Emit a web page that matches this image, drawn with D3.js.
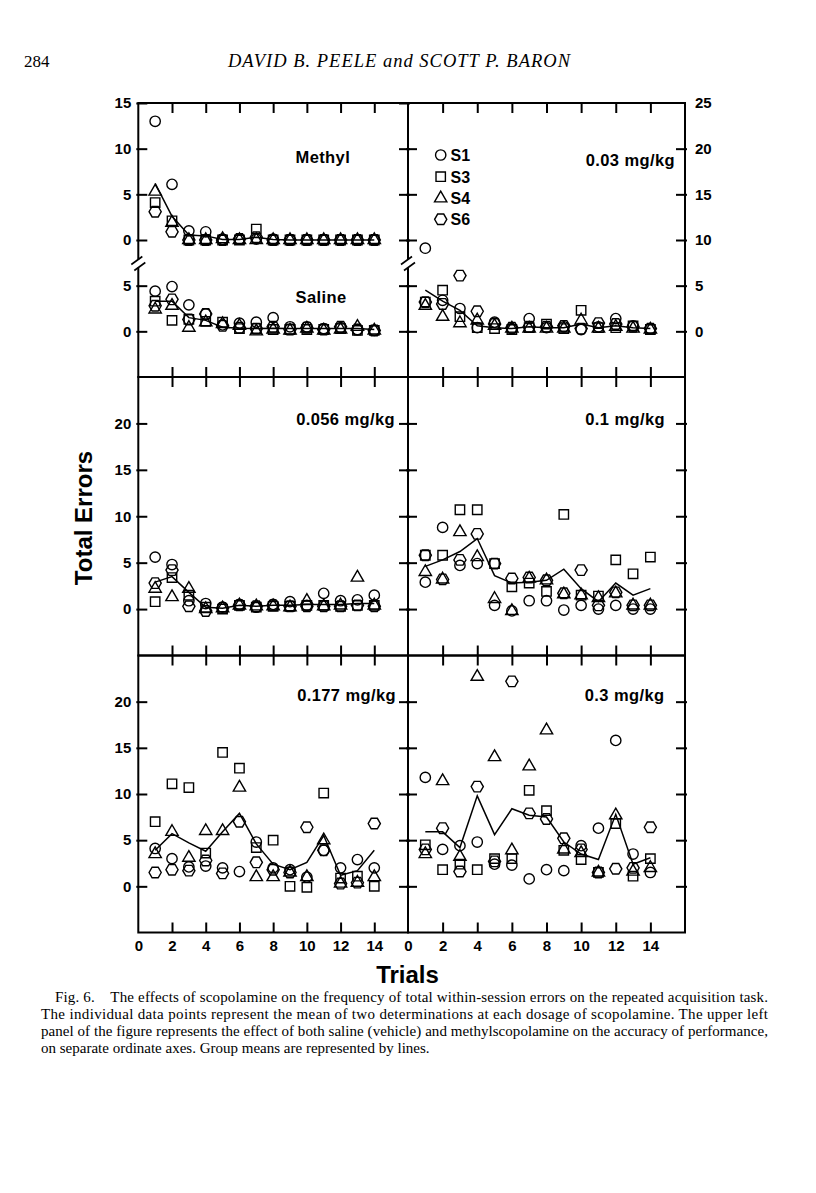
<!DOCTYPE html>
<html><head><meta charset="utf-8">
<script src="https://cdn.jsdelivr.net/npm/d3@7"></script>
<style>
html,body{margin:0;padding:0;background:#fff;}
svg{display:block;}
</style></head><body>
<svg id="chart" width="816" height="1193"></svg>
<script>
// ---------- categories / ticks ----------
const trials = [1,2,3,4,5,6,7,8,9,10,11,12,13,14];
const xInnerTicks = [2,4,6,8,10,12,14];
const xLabelTicks = [0,2,4,6,8,10,12,14];
const yTicks = [0,5,10,15,20];
const rightAxisTicks = [0,5,10,15,20,25];
const methylTicks = [0,5,10,15];
const salineTicks = [0,5];
const subjects = ["S1","S3","S4","S6"];

// ---------- data (total errors per trial) ----------
// Methylscopolamine
const methylS1 = [13.0, 6.1, 1.0, 0.9, 0.1, 0.1, 0.1, 0.1, 0.0, 0.0, 0.0, 0.0, 0.0, 0.0];
const methylS3 = [4.1, 2.1, 0.0, 0.0, 0.0, 0.0, 1.2, 0.0, 0.0, 0.0, 0.0, 0.0, 0.0, 0.0];
const methylS4 = [5.3, 1.9, 0.0, 0.0, 0.1, 0.0, 0.0, 0.0, 0.0, 0.0, 0.0, 0.0, 0.0, 0.0];
const methylS6 = [3.1, 0.9, 0.0, 0.0, 0.0, 0.1, 0.3, 0.0, 0.0, 0.0, 0.0, 0.0, 0.0, 0.0];
const methylMean = [6.2, 2.6, 0.55, 0.45, 0.05, 0.05, 0.3, 0.05, 0.0, 0.0, 0.0, 0.0, 0.0, 0.0];
// Saline
const salineS1 = [4.4, 4.9, 2.9, 1.9, 0.7, 0.9, 1.0, 1.5, 0.5, 0.5, 0.3, 0.4, 0.2, 0.1];
const salineS3 = [3.3, 1.2, 1.3, 1.1, 1.0, 0.3, 0.3, 0.2, 0.2, 0.2, 0.2, 0.3, 0.1, 0.1];
const salineS4 = [2.4, 2.8, 0.4, 1.0, 0.8, 0.6, 0.0, 0.2, 0.1, 0.3, 0.1, 0.2, 0.5, 0.1];
const salineS6 = [2.8, 3.5, 1.3, 1.9, 0.6, 0.4, 0.3, 0.5, 0.2, 0.4, 0.2, 0.5, 0.2, 0.1];
const salineMean = [3.3, 3.3, 1.5, 1.2, 0.45, 0.35, 0.3, 0.35, 0.3, 0.3, 0.3, 0.3, 0.3, 0.2];
// 0.03 mg/kg
const d003S1 = [9.1, 3.4, 2.5, 0.4, 1.0, 0.3, 1.4, 0.4, 0.5, 0.2, 0.5, 1.4, 0.6, 0.3];
const d003S3 = [3.2, 4.5, 1.6, 0.4, 0.3, 0.2, 0.4, 0.8, 0.3, 2.3, 0.4, 0.4, 0.6, 0.2];
const d003S4 = [2.8, 1.6, 0.9, 1.2, 0.6, 0.3, 0.3, 0.3, 0.3, 1.2, 0.3, 0.5, 0.3, 0.2];
const d003S6 = [3.2, 3.0, 6.1, 2.2, 0.8, 0.4, 0.5, 0.5, 0.6, 0.3, 0.9, 0.8, 0.5, 0.3];
const d003Mean = [4.5, 3.3, 2.3, 0.6, 0.4, 0.3, 0.5, 0.4, 0.4, 0.8, 0.4, 0.6, 0.4, 0.3];
// 0.056 mg/kg
const d0056S1 = [5.6, 4.8, 0.9, 0.6, 0.2, 0.5, 0.2, 0.5, 0.8, 0.4, 1.7, 0.9, 1.0, 1.5];
const d0056S3 = [0.8, 3.4, 1.5, 0.2, 0.0, 0.4, 0.2, 0.3, 0.3, 0.4, 0.4, 0.3, 0.4, 0.4];
const d0056S4 = [2.2, 1.3, 2.2, 0.0, 0.1, 0.4, 0.3, 0.3, 0.2, 0.9, 0.3, 0.4, 3.4, 0.4];
const d0056S6 = [2.8, 4.2, 0.3, -0.2, 0.1, 0.4, 0.3, 0.4, 0.3, 0.3, 0.3, 0.3, 0.4, 0.3];
const d0056Mean = [2.9, 3.5, 1.8, 0.2, 0.1, 0.4, 0.3, 0.4, 0.4, 0.5, 0.5, 0.5, 0.6, 0.6];
// 0.1 mg/kg
const d01S1 = [2.9, 8.8, 4.7, 4.9, 0.4, -0.2, 0.9, 0.9, -0.1, 0.4, 0.0, 0.4, 0.0, 0.0];
const d01S3 = [5.8, 5.8, 10.7, 10.7, 4.9, 2.4, 2.8, 1.9, 10.2, 1.5, 1.4, 5.3, 3.8, 5.6];
const d01S4 = [4.0, 3.2, 8.3, 5.6, 1.1, -0.2, 3.3, 3.1, 1.6, 1.5, 1.2, 1.7, 0.4, 0.4];
const d01S6 = [5.8, 3.2, 5.3, 8.1, 4.9, 3.3, 3.4, 3.1, 1.7, 4.2, 0.4, 1.8, 0.4, 0.4];
const d01Mean = [4.6, 5.3, 6.2, 7.6, 3.6, 2.8, 2.9, 3.1, 4.3, 2.2, 0.8, 2.8, 1.5, 2.2];
// 0.177 mg/kg
const d0177S1 = [4.1, 3.0, 2.1, 2.2, 2.0, 1.6, 4.8, 2.0, 1.8, 1.0, 3.9, 2.0, 2.9, 2.0];
const d0177S3 = [7.0, 11.1, 10.7, 3.6, 14.5, 12.8, 4.2, 5.0, 0.0, -0.1, 10.1, 0.9, 1.1, 0.0];
const d0177S4 = [3.5, 5.9, 3.1, 6.0, 6.0, 10.7, 1.0, 1.0, 1.5, 1.0, 5.0, 0.3, 0.4, 1.0];
const d0177S6 = [1.5, 1.8, 1.7, 2.8, 1.4, 7.0, 2.6, 1.8, 1.5, 6.4, 3.9, 0.3, 0.4, 6.8];
const d0177Mean = [3.9, 5.7, 4.7, 3.8, 5.9, 7.9, 4.6, 2.4, 1.8, 2.6, 5.5, 1.2, 1.7, 3.9];
// 0.3 mg/kg
const d03S1 = [11.8, 4.0, 4.4, 4.8, 2.4, 2.3, 0.8, 1.8, 1.7, 4.4, 6.3, 15.8, 3.5, 1.5];
const d03S3 = [4.5, 1.8, 2.4, 1.8, 3.0, 3.0, 10.4, 8.2, 3.9, 2.9, 1.5, 6.8, 1.1, 3.0];
const d03S4 = [3.5, 11.4, 3.2, 22.7, 14.0, 3.9, 13.0, 16.9, 4.0, 3.6, 1.5, 7.7, 1.6, 2.0];
const d03S6 = [4.0, 6.3, 1.6, 10.8, 2.7, 22.2, 7.9, 7.3, 5.2, 4.0, 1.5, 1.9, 2.0, 6.4];
const d03Mean = [5.9, 5.9, 4.2, 9.8, 5.6, 8.4, 7.7, 7.5, 4.8, 3.5, 2.9, 7.8, 2.4, 3.1];

const captionLines = [
  "Fig. 6.    The effects of scopolamine on the frequency of total within-session errors on the repeated acquisition task.",
  "The individual data points represent the mean of two determinations at each dosage of scopolamine. The upper left",
  "panel of the figure represents the effect of both saline (vehicle) and methylscopolamine on the accuracy of performance,",
  "on separate ordinate axes. Group means are represented by lines."
];

// ---------- layout ----------
const SANS = "'Liberation Sans', Arial, Helvetica, sans-serif";
const SERIF = "'Liberation Serif', 'Times New Roman', Times, serif";
const colL = [138.3, 408], colR = [408, 685];
const rows = [[103, 377], [377, 655.5], [655.5, 932.5]];
const svg = d3.select("#chart");

const symbolHexagon = {
  draw(ctx, size) {
    const r = Math.sqrt(size / (3 * Math.sqrt(3) / 2));
    for (let i = 0; i < 6; i++) {
      const a = i * Math.PI / 3;
      const px = r * Math.cos(a), py = r * Math.sin(a);
      if (i === 0) ctx.moveTo(px, py); else ctx.lineTo(px, py);
    }
    ctx.closePath();
  }
};
const symbolTypes = { S1: d3.symbolCircle, S3: d3.symbolSquare, S4: d3.symbolTriangle, S6: symbolHexagon };
const symbolSizes = { S1: 84, S3: 88, S4: 66, S6: 96 };
const symPath = s => d3.symbol().type(symbolTypes[s]).size(symbolSizes[s])();

function drawSeries(g, x, y, seriesArrays, meanArr) {
  const line = d3.line().x((d, i) => x(trials[i])).y(d => y(d));
  g.append("path").attr("d", line(meanArr)).attr("fill", "none")
    .attr("stroke", "#000").attr("stroke-width", 1.5);
  subjects.forEach((s, si) => {
    g.selectAll(null).data(seriesArrays[si]).enter().append("path")
      .attr("d", symPath(s))
      .attr("transform", (d, i) => `translate(${x(trials[i])},${y(d)})`)
      .attr("fill", "none").attr("stroke", "#000").attr("stroke-width", 1.4);
  });
}

function styleAxis(g, fs) {
  g.select(".domain").remove();
  g.selectAll(".tick line").attr("stroke", "#000").attr("stroke-width", 2);
  g.selectAll(".tick text").attr("fill", "#000").attr("font-family", SANS)
    .attr("font-weight", "bold").attr("font-size", fs || 15);
}

function panel(opts) {
  const [x0, x1] = opts.col, [y0, y1] = opts.row;
  const x = d3.scaleLinear().domain([0, 16]).range([x0, x1]);
  const y = d3.scaleLinear().domain([-5, 25]).range([y1, y0]);
  const g = svg.append("g");
  const gt = g.append("g").attr("transform", `translate(0,${y0})`)
    .call(d3.axisTop(x).tickValues(xInnerTicks).tickSizeInner(-10).tickSizeOuter(0).tickFormat(""));
  styleAxis(gt);
  const gb = g.append("g").attr("transform", `translate(0,${y1})`)
    .call(d3.axisBottom(x).tickValues(xInnerTicks).tickSizeInner(-10).tickSizeOuter(0).tickFormat(""));
  styleAxis(gb);
  if (opts.xLabels) {
    const gl = g.append("g").attr("transform", `translate(0,${y1})`)
      .call(d3.axisBottom(x).tickValues(xLabelTicks).tickSize(0).tickPadding(8).tickFormat(d3.format("d")));
    styleAxis(gl);
  }
  return { g, x, y };
}

function yAxisPair(g, yScale, ticks, xLeft, xRight, showLabels) {
  const al = g.append("g").attr("transform", `translate(${xLeft},0)`)
    .call(d3.axisLeft(yScale).tickValues(ticks).tickSizeInner(-9).tickSizeOuter(0).tickPadding(7)
      .tickFormat(showLabels ? d3.format("d") : ""));
  styleAxis(al);
  al.selectAll(".tick line").attr("x1", -2);
  const ar = g.append("g").attr("transform", `translate(${xRight},0)`)
    .call(d3.axisRight(yScale).tickValues(ticks).tickSizeInner(-9).tickSizeOuter(0).tickFormat(""));
  styleAxis(ar);
  ar.selectAll(".tick line").attr("x1", 2);
}

function label(g, text, x, y, anchor) {
  g.append("text").text(text).attr("x", x).attr("y", y).attr("text-anchor", anchor)
    .attr("font-family", SANS).attr("font-weight", "bold").attr("font-size", 16.5)
    .attr("letter-spacing", 0.4).attr("fill", "#000");
}

// ---------- top-left : Methyl + Saline ----------
{
  const p = panel({ col: colL, row: rows[0] });
  const yMethyl = d3.scaleLinear().domain([-15, 15]).range([rows[0][1], rows[0][0]]);
  const ySaline = p.y;
  yAxisPair(p.g, yMethyl, methylTicks, colL[0], colL[1], true);
  yAxisPair(p.g, ySaline, salineTicks, colL[0], colL[1], true);
  drawSeries(p.g, p.x, yMethyl, [methylS1, methylS3, methylS4, methylS6], methylMean);
  drawSeries(p.g, p.x, ySaline, [salineS1, salineS3, salineS4, salineS6], salineMean);
  label(p.g, "Methyl", 295.5, 162.5, "start");
  label(p.g, "Saline", 295.5, 302.5, "start");
}
// ---------- top-right : 0.03 ----------
{
  const p = panel({ col: colR, row: rows[0] });
  yAxisPair(p.g, p.y, yTicks, colR[0], colR[1], false);
  const ar = p.g.append("g").attr("transform", `translate(${colR[1]},0)`)
    .call(d3.axisRight(p.y).tickValues(rightAxisTicks).tickSize(0).tickPadding(10).tickFormat(d3.format("d")));
  styleAxis(ar);
  drawSeries(p.g, p.x, p.y, [d003S1, d003S3, d003S4, d003S6], d003Mean);
  label(p.g, "0.03 mg/kg", 675, 165.5, "end");
  const legY = [155, 176.7, 198.3, 219.3];
  subjects.forEach((s, i) => {
    p.g.append("path").attr("d", symPath(s)).attr("transform", `translate(440.7,${legY[i]})`)
      .attr("fill", "none").attr("stroke", "#000").attr("stroke-width", 1.4);
    p.g.append("text").text(s).attr("x", 450.5).attr("y", legY[i] + 6)
      .attr("font-family", SANS).attr("font-weight", "bold").attr("font-size", 16).attr("fill", "#000");
  });
}
// ---------- middle row ----------
{
  const p = panel({ col: colL, row: rows[1] });
  yAxisPair(p.g, p.y, yTicks, colL[0], colL[1], true);
  drawSeries(p.g, p.x, p.y, [d0056S1, d0056S3, d0056S4, d0056S6], d0056Mean);
  label(p.g, "0.056 mg/kg", 395, 425, "end");
}
{
  const p = panel({ col: colR, row: rows[1] });
  yAxisPair(p.g, p.y, yTicks, colR[0], colR[1], false);
  drawSeries(p.g, p.x, p.y, [d01S1, d01S3, d01S4, d01S6], d01Mean);
  label(p.g, "0.1 mg/kg", 665, 425, "end");
}
// ---------- bottom row ----------
{
  const p = panel({ col: colL, row: rows[2], xLabels: true });
  yAxisPair(p.g, p.y, yTicks, colL[0], colL[1], true);
  drawSeries(p.g, p.x, p.y, [d0177S1, d0177S3, d0177S4, d0177S6], d0177Mean);
  label(p.g, "0.177 mg/kg", 396, 700.5, "end");
}
{
  const p = panel({ col: colR, row: rows[2], xLabels: true });
  yAxisPair(p.g, p.y, yTicks, colR[0], colR[1], false);
  drawSeries(p.g, p.x, p.y, [d03S1, d03S3, d03S4, d03S6], d03Mean);
  label(p.g, "0.3 mg/kg", 664.5, 700.5, "end");
}

// ---------- frames ----------
[colL, colR].forEach(c => rows.forEach(r => {
  svg.append("rect").attr("x", c[0]).attr("y", r[0]).attr("width", c[1] - c[0]).attr("height", r[1] - r[0])
    .attr("fill", "none").attr("stroke", "#000").attr("stroke-width", 2);
}));

// axis breaks
[colL[0], colL[1]].forEach(bx => {
  const by = 263.5;
  svg.append("rect").attr("x", bx - 3).attr("y", by - 4).attr("width", 6).attr("height", 8).attr("fill", "#fff");
  svg.append("line").attr("x1", bx - 7).attr("y1", by + 1).attr("x2", bx + 4).attr("y2", by - 7)
    .attr("stroke", "#000").attr("stroke-width", 1.6);
  svg.append("line").attr("x1", bx - 4).attr("y1", by + 7).attr("x2", bx + 7).attr("y2", by - 1)
    .attr("stroke", "#000").attr("stroke-width", 1.6);
});

// ---------- titles ----------
svg.append("text").text("Total Errors").attr("transform", "translate(92,518) rotate(-90)")
  .attr("text-anchor", "middle").attr("font-family", SANS).attr("font-weight", "bold")
  .attr("font-size", 24).attr("fill", "#000");
svg.append("text").text("Trials").attr("x", 407.5).attr("y", 983)
  .attr("text-anchor", "middle").attr("font-family", SANS).attr("font-weight", "bold")
  .attr("font-size", 24).attr("fill", "#000");

// header
svg.append("text").text("284").attr("x", 24).attr("y", 67)
  .attr("font-family", SERIF).attr("font-size", 17).attr("fill", "#000");
svg.append("text").text("DAVID B. PEELE and SCOTT P. BARON").attr("x", 228).attr("y", 67)
  .attr("textLength", 342).attr("lengthAdjust", "spacing")
  .attr("font-family", SERIF).attr("font-style", "italic").attr("font-size", 18.5).attr("fill", "#000");

// caption
const capX = [55, 41, 41, 41], capW = [713, 727, 727, null];
captionLines.forEach((t, i) => {
  const tx = svg.append("text").text(t).attr("x", capX[i]).attr("y", 1002 + i * 17)
    .attr("font-family", SERIF).attr("font-size", 15).attr("fill", "#000")
    .style("white-space", "pre");
  if (capW[i]) tx.attr("textLength", capW[i]).attr("lengthAdjust", "spacing");
});
</script>
</body></html>
